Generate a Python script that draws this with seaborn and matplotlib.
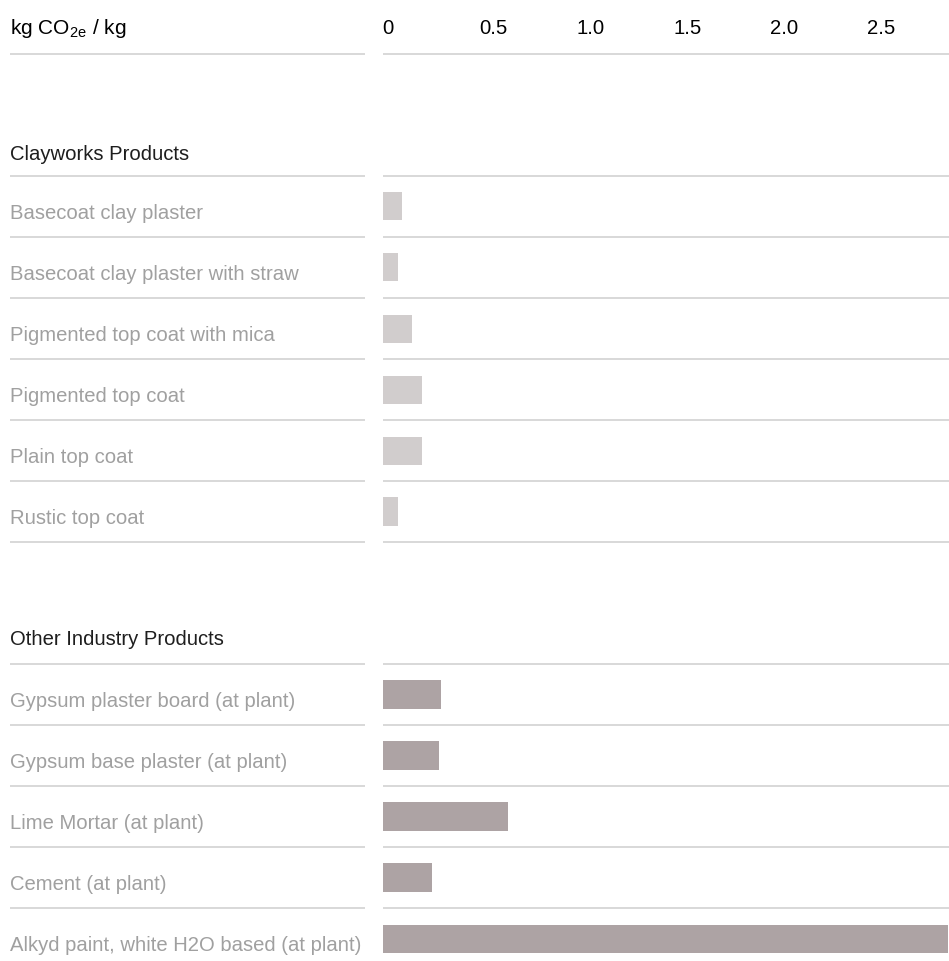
import matplotlib
matplotlib.use("Agg")
import matplotlib.pyplot as plt
import seaborn as sns
import pandas as pd

# ---- data ----
header_label = r"kg CO$_\mathregular{2e}$ / kg"
tick_values = [0, 0.5, 1.0, 1.5, 2.0, 2.5]
tick_labels = ["0", "0.5", "1.0", "1.5", "2.0", "2.5"]

group1_title = "Clayworks Products"
clay_labels = [
    "Basecoat clay plaster",
    "Basecoat clay plaster with straw",
    "Pigmented top coat with mica",
    "Pigmented top coat",
    "Plain top coat",
    "Rustic top coat",
]
clay_values = [0.10, 0.075, 0.15, 0.20, 0.20, 0.075]

group2_title = "Other Industry Products"
other_labels = [
    "Gypsum plaster board (at plant)",
    "Gypsum base plaster (at plant)",
    "Lime Mortar (at plant)",
    "Cement (at plant)",
    "Alkyd paint, white H2O based (at plant)",
]
other_values = [0.30, 0.29, 0.645, 0.25, 2.91]

clay_color = "#d1cdcd"
other_color = "#ada3a4"
line_color = "#d6d6d6"
label_color = "#a0a0a0"
title_color = "#1e1e1e"

sns.set_theme(style="white")
plt.rcParams["font.family"] = ["Liberation Sans", "DejaVu Sans"]
plt.rcParams["mathtext.fontset"] = "custom"
plt.rcParams["mathtext.rm"] = "Liberation Sans"

df = pd.DataFrame({
    "label": clay_labels + other_labels,
    "value": clay_values + other_values,
    "group": ["clay"] * len(clay_labels) + ["other"] * len(other_labels),
})

order = ["_hdr", "_gap1", "_title1"] + clay_labels + ["_gap2", "_title2"] + other_labels

W, H = 949, 961
fig = plt.figure(figsize=(W / 100, H / 100), dpi=100)
ax = fig.add_axes([383 / W, 0, (W - 383) / W, 1])
axl = fig.add_axes([10 / W, 0, (365 - 10) / W, 1])

sns.barplot(data=df, x="value", y="label", order=order, hue="group",
            palette={"clay": clay_color, "other": other_color},
            width=28 / 61, dodge=False, legend=False, ax=ax,
            saturation=1, linewidth=0)

pitch = 61.0
y_top = -23.5 / pitch
y_bot = (H - 23.5) / pitch
xmax = (W - 383) / 194.0
for a in (ax, axl):
    a.set_ylim(y_bot, y_top)
    a.set_axis_off()
ax.set_xlim(0, xmax)
axl.set_xlim(0, 1)

# separator lines
idx = {name: i for i, name in enumerate(order)}
below = [idx["_hdr"], idx["_title1"]] + [idx[l] for l in clay_labels] + \
        [idx["_title2"]] + [idx[l] for l in other_labels[:-1]]
for b in below:
    for a in (ax, axl):
        a.axhline(b + 0.5, color=line_color, lw=1.3, zorder=0)

fs = 14.6
# header
axl.text(0, idx["_hdr"] + 0.09, header_label, ha="left", va="center",
         fontsize=fs + 0.4, color="#000000")
for v, t in zip(tick_values, tick_labels):
    ax.text(v - 0.005, idx["_hdr"] + 0.09, t, ha="left", va="center",
            fontsize=fs, color="#000000")

# group titles
axl.text(0, idx["_title1"] + 0.15, group1_title, ha="left", va="center",
         fontsize=fs, color=title_color)
axl.text(0, idx["_title2"] + 0.10, group2_title, ha="left", va="center",
         fontsize=fs, color=title_color)

# row labels
for l in clay_labels + other_labels:
    axl.text(0, idx[l] + 0.12, l, ha="left", va="center",
             fontsize=fs, color=label_color)

fig.savefig("out.png", dpi=100, facecolor="white")
